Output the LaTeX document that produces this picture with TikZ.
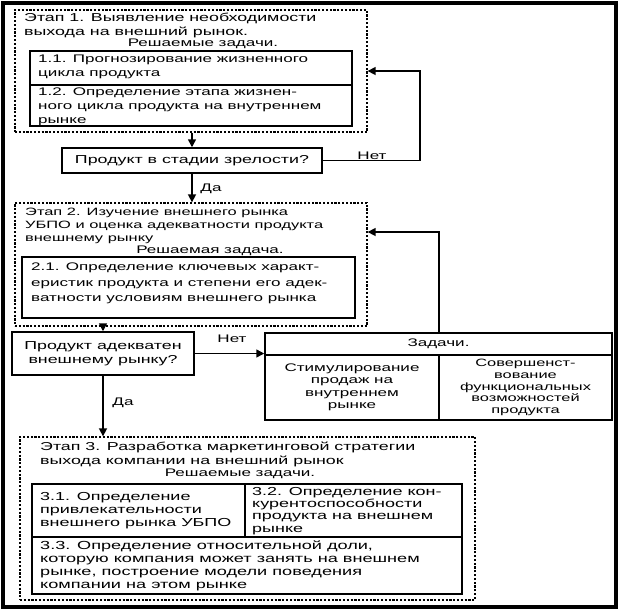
\documentclass[tikz,border=0pt]{standalone}
\usepackage{fontspec}
\setmainfont{Liberation Sans}[FakeStretch=1.55]
\usetikzlibrary{arrows.meta,fit}
\begin{document}
\begin{tikzpicture}[x=1pt,y=-1pt,
  outer/.style={draw,line width=4pt,inner sep=0pt},
  dotbox/.style={draw,line width=1.3pt,dash pattern=on 2.2pt off 1.6pt,inner sep=0pt},
  sbox/.style={draw,line width=1.5pt,inner sep=0pt},
  txt/.style={font=\fontsize{11}{14}\selectfont,inner sep=0pt,align=left,anchor=north west},
  ctxt/.style={font=\fontsize{11}{14}\selectfont,inner sep=0pt,align=center},
  stxt/.style={font=\fontsize{11}{12.5}\selectfont,inner sep=0pt,align=center},
  arr/.style={line width=1.5pt,-{Triangle[length=8pt,width=8pt]}},
  lbl/.style={font=\fontsize{11}{13}\selectfont,inner sep=0pt},
]
\useasboundingbox (0,0) rectangle (620,611);
\node[outer,fit={(3,3) (616,607)}] (frame) {};

% ---------- Stage 1
\node[dotbox,fit={(15,10) (367,132)}] (s1) {};
\node[txt,font=\fontsize{11.5}{14}\selectfont] (s1t) at (24,13) {Этап 1. Выявление необходимости\\выхода на внешний рынок.};
\node[ctxt] (s1r) at (203,44) {Решаемые задачи.};
\node[sbox,fit={(30,51) (352,85)}] (t11) {};
\node[sbox,fit={(30,85) (352,126)}] (t12) {};
\node[txt] (t11t) at (38,55) {1.1. Прогнозирование жизненного\\цикла продукта};
\node[txt] (t12t) at (38,88) {1.2. Определение этапа жизнен-\\ного цикла продукта на внутреннем\\рынке};

% ---------- Decision 1
\node[sbox,fit={(62,148) (322,173)}] (d1) {};
\node[ctxt,font=\fontsize{11.5}{14}\selectfont] (d1t) at (d1.center) {Продукт в стадии зрелости?};
\draw[arr] (s1.south -| d1.north) -- (d1.north);
\coordinate (r1) at (420,0);
\draw[arr] (d1.east) -- (d1.east -| r1) |- (s1.east);
\node[lbl] (no1) at (372,156) {Нет};

% ---------- Stage 2
\node[dotbox,fit={(15,203) (367,326)}] (s2) {};
\draw[arr] (d1.south) -- (d1.south |- s2.north);
\node[lbl] (yes1) at (211,189) {Да};
\node[txt,font=\fontsize{10.6}{13}\selectfont] (s2t) at (25,207.5) {Этап 2. Изучение внешнего рынка\\УБПО и оценка адекватности продукта\\внешнему рынку};
\node[ctxt] (s2r) at (210,250.5) {Решаемая задача.};
\node[sbox,fit={(22,257) (355,318)}] (t21) {};
\node[txt,font=\fontsize{11}{15.5}\selectfont] (t21t) at (31,263) {2.1. Определение ключевых характ-\\еристик продукта и степени его адек-\\ватности условиям внешнего рынка};

% ---------- Decision 2
\node[sbox,fit={(12,332) (194,375)}] (d2) {};
\node[ctxt,font=\fontsize{11.5}{14}\selectfont] (d2t) at (d2.center) {Продукт адекватен\\внешнему рынку?};
\draw[arr] (s2.south -| d2.north) -- (d2.north);

% ---------- Tasks
\node[sbox,fit={(265,333) (612,420)}] (tk) {};
\node[sbox,fit={(265,333) (612,355)}] (tkh) {};
\node[ctxt] (tkht) at (tkh.center) {Задачи.};
\node[sbox,fit={(265,355) (439,420)}] (tka) {};
\node[sbox,fit={(439,355) (612,420)}] (tkb) {};
\node[stxt] (tkat) at (tka.center) {Стимулирование\\продаж на\\внутреннем\\рынке};
\node[stxt,font=\fontsize{10.6}{11.8}\selectfont] (tkbt) at (tkb.center) {Совершенст-\\вование\\функциональных\\возможностей\\продукта};
\draw[arr] (d2.east) -- (d2.east -| tk.west);
\node[lbl] (no2) at (232,339) {Нет};
\coordinate (r2) at (439,232);
\draw[arr] (tkh.north -| r2) -- (r2) -- (r2 -| s2.east);

% ---------- Stage 3
\node[dotbox,fit={(20,437) (475,600)}] (s3) {};
\draw[arr] (d2.south) -- (d2.south |- s3.north);
\node[lbl] (yes2) at (123,403) {Да};
\node[txt,font=\fontsize{11.5}{13.5}\selectfont] (s3t) at (40,442) {Этап 3. Разработка маркетинговой стратегии\\выхода компании на внешний рынок};
\node[ctxt] (s3r) at (240,474) {Решаемые задачи.};
\node[sbox,fit={(32,484) (245,537)}] (t31) {};
\node[sbox,fit={(245,484) (462,537)}] (t32) {};
\node[sbox,fit={(32,537) (462,594)}] (t33) {};
\node[txt,font=\fontsize{11.6}{13}\selectfont] (t31t) at (40,492) {3.1. Определение\\привлекательности\\внешнего рынка УБПО};
\node[txt,font=\fontsize{11.6}{12.3}\selectfont] (t32t) at (252,487) {3.2. Определение кон-\\курентоспособности\\продукта на внешнем\\рынке};
\node[txt,font=\fontsize{11.7}{13}\selectfont] (t33t) at (40,541) {3.3. Определение относительной доли,\\которую компания может занять на внешнем\\рынке, построение модели поведения\\компании на этом рынке};
\end{tikzpicture}
\end{document}
